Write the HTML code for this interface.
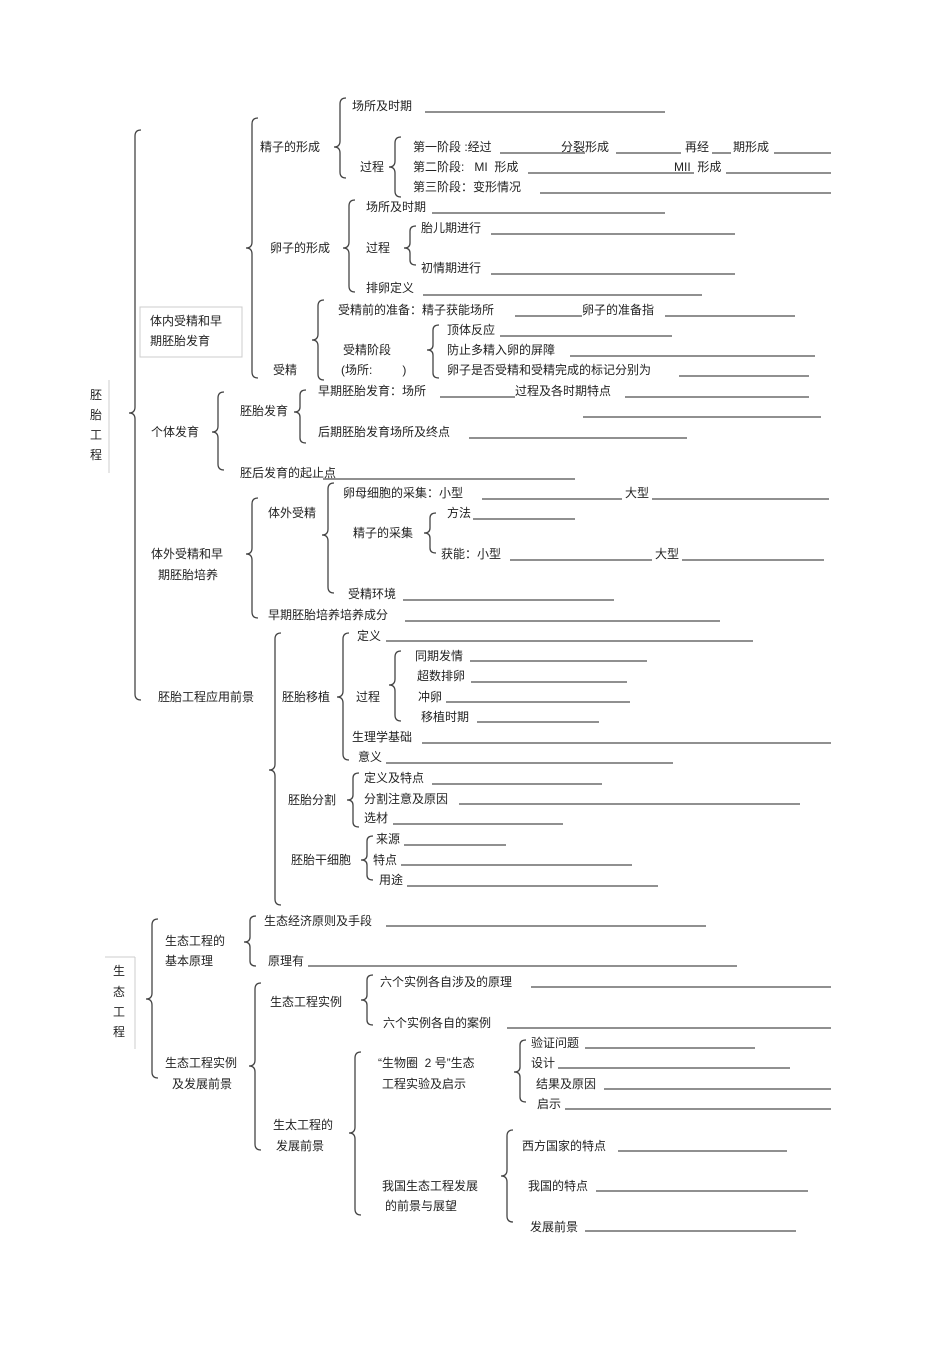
<!DOCTYPE html>
<html><head><meta charset="utf-8"><style>
html,body{margin:0;padding:0;background:#fff;}
svg{display:block;}
text{font-family:"Liberation Sans","Noto Sans CJK SC",sans-serif;font-size:12px;fill:#222;dominant-baseline:central;white-space:pre;}
.b{fill:none;stroke:#444;stroke-width:1.3;}
.l{stroke:#222;stroke-width:1;}
.g{stroke:#ccc;stroke-width:1;}
</style></head><body>
<svg width="950" height="1347" viewBox="0 0 950 1347" xmlns="http://www.w3.org/2000/svg" xml:space="preserve">
<g class="b">
<path d="M141 130 Q135 130 135 136 L135 407 Q135 413 129 413 Q135 413 135 419 L135 694 Q135 700 141 700"/>
<path d="M258 118 Q252 118 252 124 L252 242 Q252 248 246 248 Q252 248 252 254 L252 372 Q252 378 258 378"/>
<path d="M346 98 Q340 98 340 104 L340 141 Q340 147 334 147 Q340 147 340 153 L340 172 Q340 178 346 178"/>
<path d="M401 137 Q395 137 395 143 L395 161 Q395 167 389 167 Q395 167 395 173 L395 191 Q395 197 401 197"/>
<path d="M355 200 Q349 200 349 206 L349 242 Q349 248 343 248 Q349 248 349 254 L349 286 Q349 292 355 292"/>
<path d="M416 226 Q410 226 410 231 L410 243 Q410 248 404 248 Q410 248 410 253 L410 260 Q410 265 416 265"/>
<path d="M324 300 Q318 300 318 306 L318 334 Q318 340 312 340 Q318 340 318 346 L318 374 Q318 380 324 380"/>
<path d="M439 325 Q433 325 433 330 L433 345 Q433 350 427 350 Q433 350 433 355 L433 373 Q433 378 439 378"/>
<path d="M224 392 Q218 392 218 398 L218 426 Q218 432 212 432 Q218 432 218 438 L218 464 Q218 470 224 470"/>
<path d="M306 390 Q300 390 300 395 L300 407 Q300 412 294 412 Q300 412 300 417 L300 438 Q300 443 306 443"/>
<path d="M258 498 Q252 498 252 504 L252 548 Q252 554 246 554 Q252 554 252 560 L252 612 Q252 618 258 618"/>
<path d="M334 483 Q328 483 328 489 L328 529 Q328 535 322 535 Q328 535 328 541 L328 587 Q328 593 334 593"/>
<path d="M436 513 Q430 513 430 518 L430 528 Q430 533 424 533 Q430 533 430 538 L430 548 Q430 553 436 553"/>
<path d="M281 633 Q275 633 275 639 L275 764 Q275 770 269 770 Q275 770 275 776 L275 899 Q275 905 281 905"/>
<path d="M349 633 Q343 633 343 639 L343 691 Q343 697 337 697 Q343 697 343 703 L343 754 Q343 760 349 760"/>
<path d="M401 651 Q395 651 395 657 L395 679 Q395 685 389 685 Q395 685 395 691 L395 715 Q395 721 401 721"/>
<path d="M359 773 Q353 773 353 778 L353 795 Q353 800 347 800 Q353 800 353 805 L353 822 Q353 827 359 827"/>
<path d="M373 836 Q367 836 367 841 L367 855 Q367 860 361 860 Q367 860 367 865 L367 875 Q367 880 373 880"/>
<path d="M158 919 Q152 919 152 925 L152 993 Q152 999 146 999 Q152 999 152 1005 L152 1072 Q152 1078 158 1078"/>
<path d="M256 916 Q250 916 250 921 L250 937 Q250 942 244 942 Q250 942 250 947 L250 961 Q250 966 256 966"/>
<path d="M261 983 Q255 983 255 989 L255 1060 Q255 1066 249 1066 Q255 1066 255 1072 L255 1144 Q255 1150 261 1150"/>
<path d="M373 975 Q367 975 367 980 L367 995 Q367 1000 361 1000 Q367 1000 367 1005 L367 1020 Q367 1025 373 1025"/>
<path d="M361 1052 Q355 1052 355 1058 L355 1127 Q355 1133 349 1133 Q355 1133 355 1139 L355 1209 Q355 1215 361 1215"/>
<path d="M526 1040 Q520 1040 520 1045 L520 1067 Q520 1072 514 1072 Q520 1072 520 1077 L520 1097 Q520 1102 526 1102"/>
<path d="M513 1130 Q507 1130 507 1136 L507 1170 Q507 1176 501 1176 Q507 1176 507 1182 L507 1216 Q507 1222 513 1222"/>
</g>
<g class="g">
<line x1="109" y1="380" x2="109" y2="473"/>
<line x1="105" y1="957" x2="135" y2="957"/>
<line x1="135" y1="957" x2="135" y2="1049"/>
<rect x="140" y="307" width="102" height="50" fill="none"/>
</g>
<g class="l">
<line x1="425" y1="112" x2="665" y2="112"/>
<line x1="500" y1="153" x2="585" y2="153"/>
<line x1="616" y1="153" x2="681" y2="153"/>
<line x1="712" y1="153" x2="731" y2="153"/>
<line x1="774" y1="153" x2="831" y2="153"/>
<line x1="528" y1="173" x2="694" y2="173"/>
<line x1="726" y1="173" x2="831" y2="173"/>
<line x1="540" y1="193" x2="831" y2="193"/>
<line x1="432" y1="213" x2="665" y2="213"/>
<line x1="491" y1="234" x2="735" y2="234"/>
<line x1="491" y1="274" x2="735" y2="274"/>
<line x1="423" y1="295" x2="702" y2="295"/>
<line x1="515" y1="316" x2="582" y2="316"/>
<line x1="665" y1="316" x2="795" y2="316"/>
<line x1="500" y1="336" x2="672" y2="336"/>
<line x1="570" y1="356" x2="815" y2="356"/>
<line x1="679" y1="376" x2="809" y2="376"/>
<line x1="440" y1="397" x2="515" y2="397"/>
<line x1="625" y1="397" x2="809" y2="397"/>
<line x1="583" y1="417" x2="821" y2="417"/>
<line x1="469" y1="438" x2="687" y2="438"/>
<line x1="323" y1="479" x2="575" y2="479"/>
<line x1="482" y1="499" x2="622" y2="499"/>
<line x1="652" y1="499" x2="829" y2="499"/>
<line x1="473" y1="519" x2="575" y2="519"/>
<line x1="510" y1="560" x2="652" y2="560"/>
<line x1="682" y1="560" x2="824" y2="560"/>
<line x1="403" y1="600" x2="614" y2="600"/>
<line x1="405" y1="621" x2="720" y2="621"/>
<line x1="386" y1="641" x2="753" y2="641"/>
<line x1="470" y1="661" x2="647" y2="661"/>
<line x1="471" y1="682" x2="627" y2="682"/>
<line x1="446" y1="702" x2="630" y2="702"/>
<line x1="477" y1="722" x2="599" y2="722"/>
<line x1="422" y1="743" x2="831" y2="743"/>
<line x1="386" y1="763" x2="673" y2="763"/>
<line x1="432" y1="784" x2="602" y2="784"/>
<line x1="459" y1="804" x2="800" y2="804"/>
<line x1="393" y1="824" x2="563" y2="824"/>
<line x1="404" y1="845" x2="506" y2="845"/>
<line x1="401" y1="865" x2="632" y2="865"/>
<line x1="407" y1="886" x2="658" y2="886"/>
<line x1="386" y1="926" x2="706" y2="926"/>
<line x1="308" y1="966" x2="737" y2="966"/>
<line x1="531" y1="987" x2="831" y2="987"/>
<line x1="507" y1="1028" x2="831" y2="1028"/>
<line x1="585" y1="1048" x2="755" y2="1048"/>
<line x1="558" y1="1068" x2="790" y2="1068"/>
<line x1="604" y1="1089" x2="831" y2="1089"/>
<line x1="565" y1="1109" x2="831" y2="1109"/>
<line x1="618" y1="1151" x2="787" y2="1151"/>
<line x1="596" y1="1191" x2="808" y2="1191"/>
<line x1="585" y1="1231" x2="796" y2="1231"/>
</g>
<text x="90" y="395">胚</text><text x="90" y="415">胎</text><text x="90" y="435">工</text><text x="90" y="455">程</text>
<text x="113" y="971">生</text><text x="113" y="992">态</text><text x="113" y="1012">工</text><text x="113" y="1032">程</text>
<text x="352" y="106">场所及时期</text>
<text x="260" y="147">精子的形成</text>
<text x="360" y="167">过程</text>
<text x="413" y="147">第一阶段 :经过</text>
<text x="561" y="147">分裂形成</text>
<text x="685" y="147">再经</text>
<text x="733" y="147">期形成</text>
<text x="413" y="167">第二阶段:   MI  形成</text>
<text x="674" y="167">MII  形成</text>
<text x="413" y="187">第三阶段：变形情况</text>
<text x="366" y="207">场所及时期</text>
<text x="270" y="248">卵子的形成</text>
<text x="366" y="248">过程</text>
<text x="421" y="228">胎儿期进行</text>
<text x="421" y="268">初情期进行</text>
<text x="366" y="288">排卵定义</text>
<text x="150" y="321">体内受精和早</text>
<text x="150" y="341">期胚胎发育</text>
<text x="273" y="370">受精</text>
<text x="338" y="310">受精前的准备：精子获能场所</text>
<text x="582" y="310">卵子的准备指</text>
<text x="343" y="350">受精阶段</text>
<text x="341" y="370">(场所:         )</text>
<text x="447" y="330">顶体反应</text>
<text x="447" y="350">防止多精入卵的屏障</text>
<text x="447" y="370">卵子是否受精和受精完成的标记分别为</text>
<text x="151" y="432">个体发育</text>
<text x="240" y="411">胚胎发育</text>
<text x="318" y="391">早期胚胎发育：场所</text>
<text x="515" y="391">过程及各时期特点</text>
<text x="318" y="432">后期胚胎发育场所及终点</text>
<text x="240" y="473">胚后发育的起止点</text>
<text x="151" y="554">体外受精和早</text>
<text x="158" y="575">期胚胎培养</text>
<text x="268" y="513">体外受精</text>
<text x="343" y="493">卵母细胞的采集：小型</text>
<text x="625" y="493">大型</text>
<text x="447" y="513">方法</text>
<text x="353" y="533">精子的采集</text>
<text x="441" y="554">获能：小型</text>
<text x="655" y="554">大型</text>
<text x="348" y="594">受精环境</text>
<text x="268" y="615">早期胚胎培养培养成分</text>
<text x="158" y="697">胚胎工程应用前景</text>
<text x="282" y="697">胚胎移植</text>
<text x="357" y="636">定义</text>
<text x="356" y="697">过程</text>
<text x="415" y="656">同期发情</text>
<text x="417" y="676">超数排卵</text>
<text x="418" y="697">冲卵</text>
<text x="421" y="717">移植时期</text>
<text x="352" y="737">生理学基础</text>
<text x="358" y="757">意义</text>
<text x="288" y="800">胚胎分割</text>
<text x="364" y="778">定义及特点</text>
<text x="364" y="799">分割注意及原因</text>
<text x="364" y="818">选材</text>
<text x="291" y="860">胚胎干细胞</text>
<text x="376" y="839">来源</text>
<text x="373" y="860">特点</text>
<text x="379" y="880">用途</text>
<text x="165" y="941">生态工程的</text>
<text x="165" y="961">基本原理</text>
<text x="264" y="921">生态经济原则及手段</text>
<text x="268" y="961">原理有</text>
<text x="165" y="1063">生态工程实例</text>
<text x="172" y="1084">及发展前景</text>
<text x="270" y="1002">生态工程实例</text>
<text x="380" y="982">六个实例各自涉及的原理</text>
<text x="383" y="1023">六个实例各自的案例</text>
<text x="273" y="1125">生太工程的</text>
<text x="276" y="1146">发展前景</text>
<text x="378" y="1063">“生物圈  2 号”生态</text>
<text x="382" y="1084">工程实验及启示</text>
<text x="531" y="1043">验证问题</text>
<text x="531" y="1063">设计</text>
<text x="536" y="1084">结果及原因</text>
<text x="537" y="1104">启示</text>
<text x="382" y="1186">我国生态工程发展</text>
<text x="385" y="1206">的前景与展望</text>
<text x="522" y="1146">西方国家的特点</text>
<text x="528" y="1186">我国的特点</text>
<text x="530" y="1227">发展前景</text>
</svg>
</body></html>
